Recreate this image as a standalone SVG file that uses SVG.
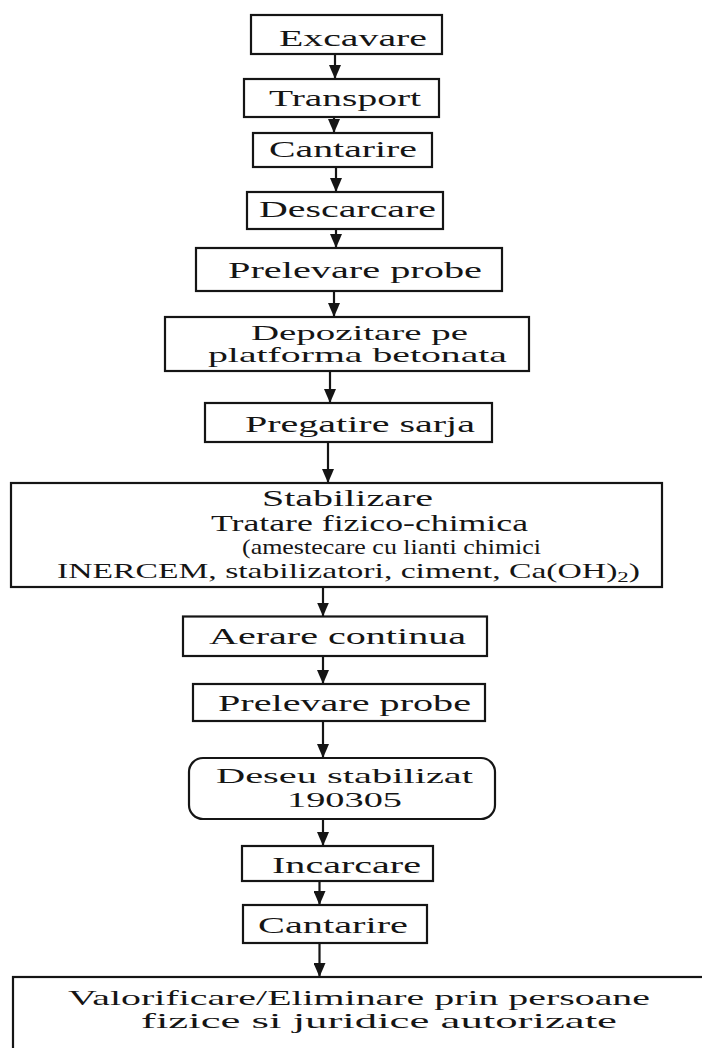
<svg xmlns="http://www.w3.org/2000/svg" width="702" height="1048" viewBox="0 0 702 1048">
<defs>
<style>
.box{fill:#fff;stroke:#151515;stroke-width:2.2}
.t{font-family:"Liberation Serif","Times New Roman",serif;font-size:24px;fill:#151515}
.s{font-size:22px}
.d{font-size:21px}
.c{stroke:#151515;stroke-width:2.2;fill:none}
</style>
<marker id="ah" markerUnits="userSpaceOnUse" markerWidth="14" markerHeight="12" viewBox="0 0 14 12" refX="14" refY="6" orient="auto">
<path d="M0,0 L14,6 L0,12 z" fill="#151515"/>
</marker>
</defs>
<rect width="702" height="1048" fill="#fff"/>
<g id="connectors">
<line class="c" x1="335" y1="54" x2="335" y2="79" marker-end="url(#ah)"/>
<line class="c" x1="334" y1="117" x2="334" y2="133" marker-end="url(#ah)"/>
<line class="c" x1="336" y1="167" x2="336" y2="192" marker-end="url(#ah)"/>
<line class="c" x1="336" y1="229" x2="336" y2="248" marker-end="url(#ah)"/>
<line class="c" x1="334" y1="291" x2="334" y2="317" marker-end="url(#ah)"/>
<line class="c" x1="330" y1="371" x2="330" y2="403" marker-end="url(#ah)"/>
<line class="c" x1="328" y1="442" x2="328" y2="483" marker-end="url(#ah)"/>
<line class="c" x1="323" y1="587" x2="323" y2="616.5" marker-end="url(#ah)"/>
<line class="c" x1="323" y1="656" x2="323" y2="684" marker-end="url(#ah)"/>
<line class="c" x1="323" y1="721" x2="323" y2="758" marker-end="url(#ah)"/>
<line class="c" x1="323" y1="819" x2="323" y2="846" marker-end="url(#ah)"/>
<line class="c" x1="319.5" y1="881" x2="319.5" y2="905" marker-end="url(#ah)"/>
<line class="c" x1="319.5" y1="943" x2="319.5" y2="977" marker-end="url(#ah)"/>
</g>
<g id="n-excavare">
<rect class="box" x="251" y="15" width="191" height="39"/>
<text class="t" x="279" y="46" textLength="148" lengthAdjust="spacingAndGlyphs">Excavare</text>
</g>
<g id="n-transport">
<rect class="box" x="244" y="79" width="195" height="38"/>
<text class="t" x="269" y="106" textLength="152" lengthAdjust="spacingAndGlyphs">Transport</text>
</g>
<g id="n-cantarire1">
<rect class="box" x="253" y="133" width="179" height="34"/>
<text class="t" x="269" y="157" textLength="148" lengthAdjust="spacingAndGlyphs">Cantarire</text>
</g>
<g id="n-descarcare">
<rect class="box" x="247" y="192" width="196" height="37"/>
<text class="t" x="259" y="217" textLength="177" lengthAdjust="spacingAndGlyphs">Descarcare</text>
</g>
<g id="n-prelevare1">
<rect class="box" x="196" y="248" width="306" height="43"/>
<text class="t" x="228" y="278" textLength="254" lengthAdjust="spacingAndGlyphs">Prelevare probe</text>
</g>
<g id="n-depozitare">
<rect class="box" x="165" y="317" width="364" height="54"/>
<text class="t d" x="251" y="340" textLength="217" lengthAdjust="spacingAndGlyphs">Depozitare pe</text>
<text class="t d" x="208" y="362" textLength="299" lengthAdjust="spacingAndGlyphs">platforma betonata</text>
</g>
<g id="n-pregatire">
<rect class="box" x="205" y="403" width="287" height="39"/>
<text class="t" x="245" y="432" textLength="230" lengthAdjust="spacingAndGlyphs">Pregatire sarja</text>
</g>
<g id="n-stabilizare">
<rect class="box" x="11" y="483" width="651" height="104"/>
<text class="t" x="262" y="506" textLength="171" lengthAdjust="spacingAndGlyphs">Stabilizare</text>
<text class="t" x="211" y="531" textLength="317" lengthAdjust="spacingAndGlyphs">Tratare fizico-chimica</text>
<text class="t s" x="242" y="554" textLength="299" lengthAdjust="spacingAndGlyphs">(amestecare cu lianti chimici</text>
<text class="t s" x="57" y="578" textLength="583" lengthAdjust="spacingAndGlyphs">INERCEM, stabilizatori, ciment, Ca(OH)<tspan font-size="15" dy="4">2</tspan><tspan dy="-4">)</tspan></text>
</g>
<g id="n-aerare">
<rect class="box" x="183" y="616.5" width="304" height="39.5"/>
<text class="t" x="209" y="644" textLength="257" lengthAdjust="spacingAndGlyphs">Aerare continua</text>
</g>
<g id="n-prelevare2">
<rect class="box" x="193" y="684" width="292" height="37"/>
<text class="t" x="218" y="711" textLength="253" lengthAdjust="spacingAndGlyphs">Prelevare probe</text>
</g>
<g id="n-deseu">
<rect class="box" x="189" y="758" width="306" height="61" rx="14" ry="14"/>
<text class="t s" x="216" y="783" textLength="257" lengthAdjust="spacingAndGlyphs">Deseu stabilizat</text>
<text class="t s" x="287" y="807" textLength="115" lengthAdjust="spacingAndGlyphs">190305</text>
</g>
<g id="n-incarcare">
<rect class="box" x="242" y="846" width="191" height="35"/>
<text class="t" x="272" y="873" textLength="149" lengthAdjust="spacingAndGlyphs">Incarcare</text>
</g>
<g id="n-cantarire2">
<rect class="box" x="243" y="905" width="184" height="38"/>
<text class="t" x="258" y="933" textLength="150" lengthAdjust="spacingAndGlyphs">Cantarire</text>
</g>
<g id="n-valorificare">
<rect class="box" x="13" y="977" width="700" height="90" stroke-width="2.6"/>
<text class="t s" x="68" y="1005" textLength="582" lengthAdjust="spacingAndGlyphs">Valorificare/Eliminare prin persoane</text>
<text class="t s" x="141" y="1028" textLength="476" lengthAdjust="spacingAndGlyphs">fizice si juridice autorizate</text>
</g>
</svg>
